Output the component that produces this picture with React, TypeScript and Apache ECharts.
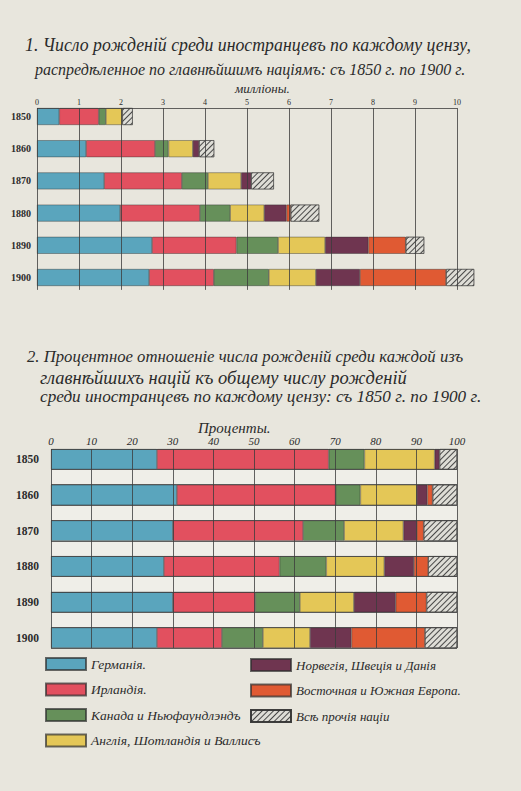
import React, { useEffect, useRef } from 'react';
import * as echarts from 'echarts';

// ---------- data ----------
const YEARS = ['1850', '1860', '1870', '1880', '1890', '1900'];
const NATIONS = [
  'Германія.',
  'Ирландія.',
  'Канада и Ньюфаундлэндъ',
  'Англія, Шотландія и Валлисъ',
  'Норвегія, Швеція и Данія',
  'Восточная и Южная Европа.',
  'Всѣ прочія націи',
];

// Chart 1: millions
const germanyM = [0.53, 1.17, 1.6, 1.98, 2.74, 2.67];
const irelandM = [0.94, 1.64, 1.85, 1.9, 2.01, 1.54];
const canadaM = [0.17, 0.32, 0.62, 0.72, 0.99, 1.31];
const britainM = [0.39, 0.58, 0.79, 0.81, 1.12, 1.12];
const scandM = [null, 0.15, 0.24, 0.53, 1.03, 1.05];
const eastSouthM = [null, null, null, 0.1, 0.89, 2.05];
const otherM = [0.25, 0.36, 0.54, 0.68, 0.44, 0.67];

// Chart 2: percent
const germanyP = [26.1, 31.0, 30.0, 27.8, 30.0, 26.1];
const irelandP = [42.3, 39.1, 32.1, 28.5, 20.3, 16.0];
const canadaP = [8.8, 6.1, 10.1, 11.5, 11.0, 10.1];
const britainP = [17.3, 13.9, 14.6, 14.3, 13.3, 11.6];
const scandP = [1.2, 2.6, 3.3, 7.3, 10.3, 10.2];
const eastSouthP = [null, 1.3, 1.7, 3.5, 7.6, 18.1];
const otherP = [4.3, 6.0, 8.2, 7.1, 7.5, 7.9];

const MILLION_TICKS = [0, 1, 2, 3, 4, 5, 6, 7, 8, 9, 10];
const PERCENT_TICKS = [0, 10, 20, 30, 40, 50, 60, 70, 80, 90, 100];

// ---------- styles ----------
const PAPER = '#e8e6dd';
const COLORS = ['#5aa5bd', '#e2505f', '#66905a', '#e4c757', '#6f3550', '#e05a33', '#deddd6'];
const SERIF = "'Liberation Serif', 'DejaVu Serif', serif";
const INK = '#2b2b2b';
const LINE = '#3c3c3c';

// layout
const G1 = { left: 37, width: 420, top: 100.4, height: 193.2, barFrac: 0.528 };
const G2 = { left: 51, width: 406, top: 441.4, height: 214.2, barFrac: 0.574 };

function barSeries(values: (number | null)[][], xi: number, yi: number, stack: string, clip: boolean) {
  return values.map((vals, i) => {
    const s: any = {
      type: 'bar',
      name: NATIONS[i],
      stack,
      xAxisIndex: xi,
      yAxisIndex: yi,
      data: vals,
      clip,
      barCategoryGap: xi === 0 ? `${(1 - G1.barFrac) * 100}%` : `${(1 - G2.barFrac) * 100}%`,
      itemStyle: {
        color: COLORS[i],
        borderColor: 'rgba(45,45,45,0.7)',
        borderWidth: 0.6,
      },
    };
    if (i === 6) {
      s.itemStyle.decal = {
        symbol: 'rect',
        symbolSize: 1,
        color: 'rgba(55,55,55,0.9)',
        dashArrayX: [1, 0],
        dashArrayY: [1, 3],
        rotation: -Math.PI / 4,
      };
    }
    return s;
  });
}

function buildOption() {
  const f1 = G1.barFrac / 2;
  const f2 = G2.barFrac / 2;
  const last = YEARS.length - 1;

  const lines1: any[] = MILLION_TICKS.map((t) => [
    { coord: [t, -f1] },
    { coord: [t, last + f1 + 0.12] },
  ]);
  lines1.push([{ coord: [0, -f1] }, { coord: [10, -f1] }]);

  const lines2: any[] = PERCENT_TICKS.map((t) => [
    { coord: [t, -f2] },
    { coord: [t, last + f2] },
  ]);
  YEARS.forEach((_, i) => {
    lines2.push([{ coord: [0, i - f2] }, { coord: [100, i - f2] }]);
    lines2.push([{ coord: [0, i + f2] }, { coord: [100, i + f2] }]);
  });

  const ts = (size: number) => ({ fontFamily: SERIF, fontStyle: 'italic', fontSize: size, color: INK, fontWeight: 'normal' });

  return {
    animation: false,
    backgroundColor: PAPER,
    title: [
      { text: '1. Число рожденій среди иностранцевъ по каждому цензу,', left: 25, top: 36, padding: 0, textStyle: ts(17.8) },
      { text: 'распредѣленное по главнѣйшимъ націямъ: съ 1850 г. по 1900 г.', left: 35, top: 61.5, padding: 0, textStyle: ts(16) },
      { text: 'милліоны.', left: 235, top: 82, padding: 0, textStyle: ts(13) },
      { text: '2. Процентное отношеніе числа рожденій среди каждой изъ', left: 27, top: 348, padding: 0, textStyle: ts(16.7) },
      { text: 'главнѣйшихъ націй къ общему числу рожденій', left: 40, top: 368, padding: 0, textStyle: ts(18.5) },
      { text: 'среди иностранцевъ по каждому цензу: съ 1850 г. по 1900 г.', left: 40, top: 388, padding: 0, textStyle: ts(17.2) },
      { text: 'Проценты.', left: 198, top: 420, padding: 0, textStyle: ts(15) },
    ],
    legend: [
      {
        data: NATIONS.slice(0, 4),
        orient: 'vertical',
        left: 45,
        top: 657,
        padding: 0,
        itemWidth: 40,
        itemHeight: 12,
        itemGap: 11.5,
        icon: 'rect',
        selectedMode: false,
        textStyle: { fontFamily: SERIF, fontStyle: 'italic', fontSize: 13.5, color: INK },
      },
      {
        data: NATIONS.slice(4),
        orient: 'vertical',
        left: 250,
        top: 658,
        padding: 0,
        itemWidth: 40,
        itemHeight: 12,
        itemGap: 11.5,
        icon: 'rect',
        selectedMode: false,
        textStyle: { fontFamily: SERIF, fontStyle: 'italic', fontSize: 13, color: INK },
      },
    ],
    grid: [
      { left: G1.left, width: G1.width, top: G1.top, height: G1.height },
      { left: G2.left, width: G2.width, top: G2.top, height: G2.height },
    ],
    xAxis: [
      {
        gridIndex: 0,
        type: 'value',
        position: 'top',
        min: 0,
        max: 10,
        interval: 1,
        offset: -(G1.height / YEARS.length) * (1 - G1.barFrac) / 2,
        axisLine: { show: false },
        axisTick: { show: false },
        splitLine: { show: false },
        axisLabel: { margin: 1.5, fontSize: 8, color: INK, fontFamily: SERIF },
      },
      {
        gridIndex: 1,
        type: 'value',
        position: 'top',
        min: 0,
        max: 100,
        interval: 10,
        offset: -(G2.height / YEARS.length) * (1 - G2.barFrac) / 2,
        axisLine: { show: false },
        axisTick: { show: false },
        splitLine: { show: false },
        axisLabel: { margin: 3, fontSize: 11, color: INK, fontFamily: SERIF, fontStyle: 'italic' },
      },
    ],
    yAxis: [
      {
        gridIndex: 0,
        type: 'category',
        data: YEARS,
        inverse: true,
        axisLine: { show: false },
        axisTick: { show: false },
        axisLabel: { margin: 6, fontSize: 10, color: INK, fontFamily: SERIF, fontWeight: 'bold', padding: [10, 0, 0, 0] },
      },
      { gridIndex: 0, type: 'value', min: -0.5, max: 5.5, inverse: true, show: false },
      {
        gridIndex: 1,
        type: 'category',
        data: YEARS,
        inverse: true,
        axisLine: { show: false },
        axisTick: { show: false },
        axisLabel: { margin: 12, fontSize: 11.5, color: INK, fontFamily: SERIF, fontWeight: 'bold' },
      },
      { gridIndex: 1, type: 'value', min: -0.5, max: 5.5, inverse: true, show: false },
    ],
    series: [
      ...barSeries([germanyM, irelandM, canadaM, britainM, scandM, eastSouthM, otherM], 0, 0, 'm', false),
      ...barSeries([germanyP, irelandP, canadaP, britainP, scandP, eastSouthP, otherP], 1, 2, 'p', true),
      {
        type: 'line',
        name: 'grid1',
        xAxisIndex: 0,
        yAxisIndex: 1,
        data: [],
        silent: true,
        clip: false,
        markLine: {
          silent: true,
          symbol: ['none', 'none'],
          label: { show: false },
          lineStyle: { color: LINE, width: 0.8, type: 'solid' },
          emphasis: { disabled: true },
          data: lines1,
        },
      },
      {
        type: 'line',
        name: 'grid2',
        xAxisIndex: 1,
        yAxisIndex: 3,
        data: [],
        silent: true,
        clip: false,
        markArea: {
          silent: true,
          itemStyle: { color: '#efeee8', borderWidth: 0 },
          data: [[{ coord: [0, -f2] }, { coord: [100, last + f2] }]],
        },
        markLine: {
          silent: true,
          symbol: ['none', 'none'],
          label: { show: false },
          lineStyle: { color: LINE, width: 0.8, type: 'solid' },
          emphasis: { disabled: true },
          data: lines2,
        },
      },
    ],
  };
}

export default function App() {
  const ref = useRef<HTMLDivElement>(null);
  useEffect(() => {
    document.body.style.margin = '0';
    document.body.style.background = PAPER;
    const chart = echarts.init(ref.current!, null, { renderer: 'svg' });
    chart.setOption(buildOption() as any);
    return () => chart.dispose();
  }, []);
  return <div ref={ref} style={{ width: 521, height: 791 }} />;
}
